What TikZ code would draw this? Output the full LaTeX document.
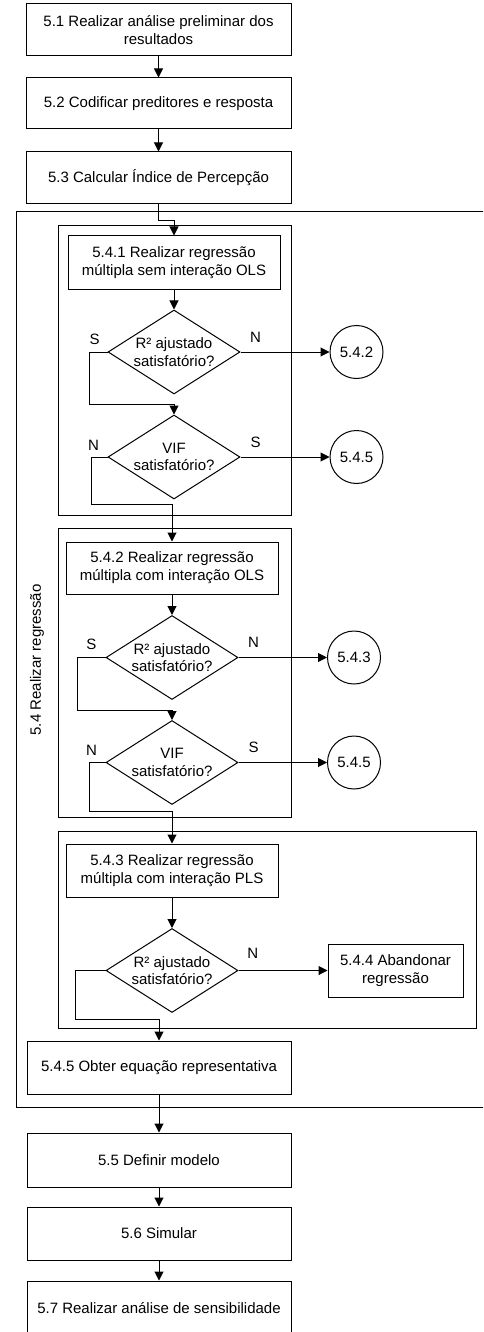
\documentclass[tikz,border=0pt]{standalone}
\usepackage{fontspec}
\setmainfont{Liberation Sans}
\usetikzlibrary{shapes.geometric,arrows.meta}
\begin{document}
\begin{tikzpicture}[x=1pt, y=-1pt, line width=1pt,
        font=\fontsize{15}{17.7}\selectfont,
        proc/.style = {draw, fill=white, align=center, inner sep=0pt, minimum height=52pt},
        dec/.style = {draw, diamond, shape aspect=1.57, align=center, inner sep=-1.5pt, minimum width=132pt, minimum height=84pt},
        ref/.style = {draw, circle, minimum size=53pt, inner sep=0pt},
        arr/.style = {-{Triangle[length=9pt, width=9pt]}}]
        \clip (0,0) rectangle (483,1332);
        \draw (490,212) -| (16,1107) -- (490,1107);
        \draw (58,226) rectangle (291,515);
        \draw (58,528) rectangle (291,817);
        \draw (58,831) rectangle (476,1028);
        \node[rotate=90] (lbl54) at (37,660) {5.4 Realizar regressão};

        \node[proc, minimum width=265pt] (51) at (158.5,30) {5.1 Realizar análise preliminar dos\\resultados};
        \node[proc, minimum width=265pt, minimum height=51pt] (52) at (158.5,103.5) {5.2 Codificar preditores e resposta};
        \node[proc, minimum width=265pt] (53) at (158.5,178) {5.3 Calcular Índice de Percepção};
        \node[proc, minimum width=212pt, minimum height=53pt] (541) at (174,262.5) {5.4.1 Realizar regressão\\múltipla sem interação OLS};
        \node[dec] (r541) at (174,352) {R² ajustado\\satisfatório?};
        \node[ref] (c542) at (356.5,352) {5.4.2};
        \node[dec] (v541) at (174,457) {VIF\\satisfatório?};
        \node[ref] (c545a) at (356.5,457) {5.4.5};
        \node[proc, minimum width=212pt] (542) at (172,568) {5.4.2 Realizar regressão\\múltipla com interação OLS};
        \node[dec] (r542) at (172,657.5) {R² ajustado\\satisfatório?};
        \node[ref] (c543) at (354,657.5) {5.4.3};
        \node[dec] (v542) at (172,762.5) {VIF\\satisfatório?};
        \node[ref] (c545b) at (354,762.5) {5.4.5};
        \node[proc, minimum width=212pt, minimum height=53pt] (543) at (172,870.5) {5.4.3 Realizar regressão\\múltipla com interação PLS};
        \node[dec] (r543) at (172,970.5) {R² ajustado\\satisfatório?};
        \node[proc, minimum width=135pt, minimum height=53pt] (544) at (395.5,970.5) {5.4.4 Abandonar\\regressão};
        \node[proc, minimum width=264pt, minimum height=53pt] (545) at (159,1067.5) {5.4.5 Obter equação representativa};
        \node[proc, minimum width=264pt, minimum height=54pt] (55) at (159,1160) {5.5 Definir modelo};
        \node[proc, minimum width=264pt, minimum height=53pt] (56) at (159,1233.5) {5.6 Simular};
        \node[proc, minimum width=264pt, minimum height=54pt] (57) at (159,1308) {5.7 Realizar análise de sensibilidade};

        \draw[arr] (51) -- (52);
        \draw[arr] (52) -- (53);
        \draw[arr] (53.south) -- ++(0,16) -| (541.north);
        \draw[arr] (541) -- (r541);
        \draw[arr] (r541) -- node[pos=0.17, above=6pt] {N} (c542);
        \draw[arr] (r541.west) -- node[pos=0.72, above=4pt] {S} ++(-18,0) -- ++(0,52) -| (v541.north);
        \draw[arr] (v541) -- node[pos=0.17, above=6pt] {S} (c545a);
        \draw[arr] (v541.west) -- node[pos=0.875, above=3pt] {N} ++(-16,0) -- ++(0,47) -| (542.north);
        \draw[arr] (542) -- (r542);
        \draw[arr] (r542) -- node[pos=0.17, above=6pt] {N} (c543);
        \draw[arr] (r542.west) -- node[pos=0.5, above=4pt] {S} ++(-28,0) -- ++(0,53) -| (v542.north);
        \draw[arr] (v542) -- node[pos=0.17, above=6pt] {S} (c545b);
        \draw[arr] (v542.west) -- node[pos=0.875, above=3pt] {N} ++(-16,0) -- ++(0,49) -| (543.north);
        \draw[arr] (543) -- (r543);
        \draw[arr] (r543) -- node[pos=0.16, above=8pt] {N} (544);
        \draw[arr] (r543.west) -- ++(-30,0) -- ++(0,49) -| (545.north);
        \draw[arr] (545) -- (55);
        \draw[arr] (55) -- (56);
        \draw[arr] (56) -- (57);
      \end{tikzpicture}
\end{document}
